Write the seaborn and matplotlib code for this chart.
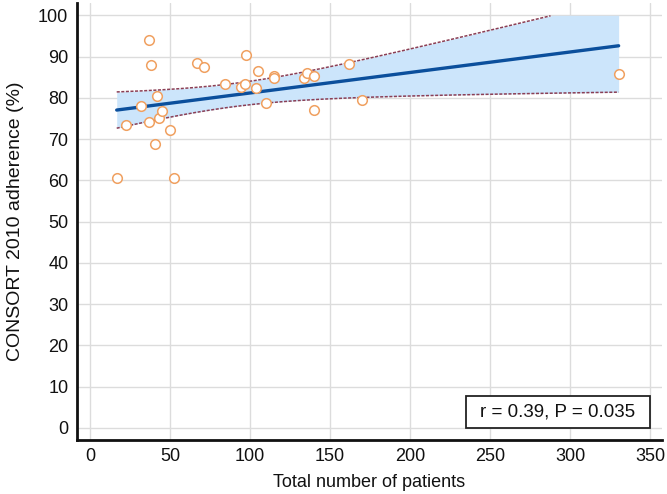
import numpy as np
import pandas as pd
import seaborn as sns
import matplotlib.pyplot as plt
from matplotlib.patches import Rectangle

# values
patients = [16.7, 22.5, 36.9, 37.9, 31.9, 36.9, 42.1, 43.1, 45.0, 40.8,
            50.0, 52.7, 66.9, 71.1, 84.2, 97.7, 94.6, 97.1, 105.0, 103.9,
            110.0, 114.8, 114.8, 133.8, 135.6, 139.8, 139.8, 161.9, 170.0, 330.4]
adherence = [60.5, 73.4, 94.0, 87.9, 78.1, 74.2, 80.4, 75.0, 76.7, 68.7,
             72.3, 60.5, 88.5, 87.4, 83.3, 90.5, 82.7, 83.4, 86.4, 82.4,
             78.7, 85.4, 84.7, 84.7, 86.1, 85.3, 77.1, 88.2, 79.5, 85.7]
stat_label = "r = 0.39, P = 0.035"
x_ticks = [0, 50, 100, 150, 200, 250, 300, 350]
y_ticks = list(range(0, 101, 10))

df = pd.DataFrame({'patients': patients, 'adherence': adherence})

# least squares fit with a 95% confidence band for the mean
x = df['patients'].to_numpy()
y = df['adherence'].to_numpy()
n = len(x)
slope, intercept = np.polyfit(x, y, 1)
resid = y - (intercept + slope * x)
s_err = np.sqrt(np.sum(resid ** 2) / (n - 2))
try:
    from scipy import stats
    t_crit = stats.t.ppf(0.975, n - 2)
except ImportError:
    t_crit = 2.048  # df = 28
xs = np.linspace(x.min(), x.max(), 200)
ys = intercept + slope * xs
half = t_crit * s_err * np.sqrt(1 / n + (xs - x.mean()) ** 2 / np.sum((x - x.mean()) ** 2))
lower = ys - half
upper = ys + half
fit = pd.DataFrame({'x': xs, 'y': ys, 'lo': lower, 'hi': upper})

sns.set_style("whitegrid")
plt.rcParams['font.family'] = ['Liberation Sans', 'DejaVu Sans']

fig = plt.figure(figsize=(6.67, 4.94), dpi=100)
ax = fig.add_axes([0.115, 0.109, 0.8775, 0.885])

ax.fill_between(fit['x'], fit['lo'], np.minimum(fit['hi'], 100), color='#cce5fb', lw=0, zorder=1)
ax.plot(fit['x'], fit['lo'], ls=(0, (2, 1)), color='#8b3f55', lw=1.1, zorder=2)
ax.plot(fit['x'], fit['hi'].where(fit['hi'] <= 100), ls=(0, (2, 1)), color='#8b3f55', lw=1.1, zorder=2)
sns.lineplot(data=fit, x='x', y='y', ax=ax, color='#0b4f9c', lw=2.4, zorder=3)
sns.scatterplot(data=df, x='patients', y='adherence', ax=ax, s=48,
                facecolor='white', edgecolor='#f0a060', linewidth=1.1, zorder=4)

ax.set_xlim(-8.3, 357.5)
ax.set_ylim(-3, 103)
ax.set_xticks(x_ticks)
ax.set_yticks(y_ticks)
ax.grid(True, color='#dcdcdc', lw=1)
ax.tick_params(direction='in', length=8, width=1.5, color='#222222', labelsize=13, pad=6,
               labelcolor='#111111')
for side in ['top', 'right']:
    ax.spines[side].set_visible(False)
for side in ['left', 'bottom']:
    ax.spines[side].set_color('#111111')
    ax.spines[side].set_linewidth(2)

ax.set_xlabel("Total number of patients", fontsize=13, labelpad=6, color='#111111')
ax.set_ylabel("CONSORT 2010 adherence (%)", fontsize=14, labelpad=10, color='#111111')

# statistics box in the lower right corner
ax.add_patch(Rectangle((235, 0), 115, 7.7, facecolor='white', edgecolor='#222222', lw=1.3, zorder=5))
ax.text(292.5, 3.85, stat_label, ha='center', va='center', fontsize=13.5, color='#111111', zorder=6)

fig.savefig('out.png', dpi=100)
